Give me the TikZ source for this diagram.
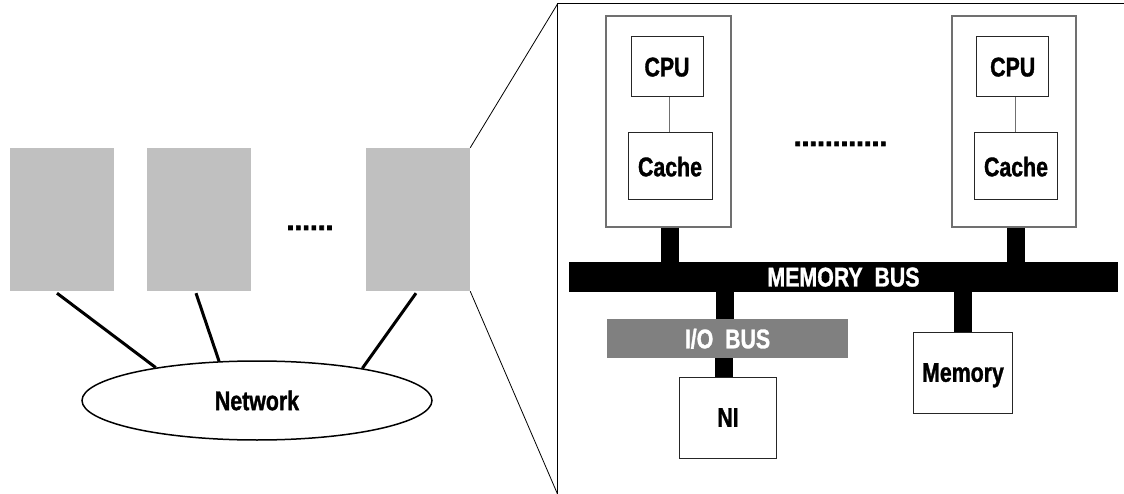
\documentclass[tikz,border=0pt]{standalone}
\usepackage{fontspec}
\setmainfont{Liberation Sans}[FakeStretch=0.79,FakeBold=1.2]
\newfontfamily\dotfont{Liberation Sans}[FakeBold=2.5]
\usetikzlibrary{shapes.geometric}
\definecolor{nodegray}{HTML}{C0C0C0}
\definecolor{busgray}{HTML}{808080}
\definecolor{edgegray}{HTML}{707070}
\tikzset{
  lab/.style={font=\fontsize{27}{30}\selectfont\bfseries},
  dots/.style={font=\fontsize{28}{30}\selectfont\bfseries\dotfont, anchor=base, inner sep=0pt},
  node box/.style={fill=nodegray, draw=none, inner sep=0pt},
  proc/.style={draw=edgegray, line width=1.2pt, inner sep=0pt},
  unit/.style={draw=black!85, line width=1pt, inner sep=0pt, lab, text depth=0pt},
  link/.style={line width=3pt},
  bus/.style={line width=18pt},
  thin link/.style={draw=edgegray, line width=1pt},
  frame/.style={line width=1pt},
}
\begin{document}
\begin{tikzpicture}[x=1pt,y=-1pt]
\useasboundingbox (0,0) rectangle (1124,494);
% left: nodes and network
\node[node box, minimum width=104pt, minimum height=143pt] (b1) at (62,219.5) {};
\node[node box, minimum width=104pt, minimum height=143pt] (b2) at (199,219.5) {};
\node[node box, minimum width=104pt, minimum height=143pt] (b3) at (418,219.5) {};
\node[dots] (ldots) at (310,230) {......};
\node[ellipse, draw, line width=1.5pt, minimum width=350pt, minimum height=79pt, inner sep=0pt, lab] (net) at (257,400.5) {Network};
\draw[link] ([xshift=-5pt,yshift=-2pt]b1.south) -- (net.162);
\draw[link] ([xshift=-3pt,yshift=-2pt]b2.south) -- (net.134);
\draw[link] ([xshift=-2pt,yshift=-2pt]b3.south) -- (net.17.4);
% zoom frame
\coordinate (fTL) at (557.5,4);
\coordinate (fBL) at (557.5,494);
\coordinate (fTR) at (1124,4);
\draw[frame] (fBL) -- (fTL) -- (fTR);
\draw[line width=0.8pt] (b3.north east) -- (fTL);
\draw[line width=0.8pt] (b3.south east) -- (fBL);
% processors
\node[proc, minimum width=125pt, minimum height=211pt] (p1) at (668.5,121.5) {};
\node[proc, minimum width=124pt, minimum height=211pt] (p2) at (1014,121.5) {};
\node[unit, minimum width=72pt, minimum height=60pt] (cpu1) at (667,67) {CPU};
\node[unit, minimum width=84pt, minimum height=67pt] (cache1) at (670,166.5) {Cache};
\node[unit, minimum width=71.5pt, minimum height=60pt] (cpu2) at (1012.7,67) {CPU};
\node[unit, minimum width=83.4pt, minimum height=67pt] (cache2) at (1016,166.5) {Cache};
\draw[thin link] ([xshift=2pt]cpu1.south) -- ([xshift=2pt]cpu1.south |- cache1.north);
\draw[thin link] ([xshift=2.3pt]cpu2.south) -- ([xshift=2.3pt]cpu2.south |- cache2.north);
\node[dots] (rdots) at (840.5,146) {............};
% buses
\node[fill=black, text=white, inner sep=0pt, minimum width=549pt, minimum height=30pt, lab, text depth=0pt] (mbus) at (843.5,277) {MEMORY\ \ BUS};
\node[fill=busgray, text=white, inner sep=0pt, minimum width=241pt, minimum height=39pt, lab, text depth=0pt] (iobus) at (727.5,338.5) {I/O\ \ BUS};
\node[unit, minimum width=96.5pt, minimum height=81pt] (ni) at (728,417.5) {NI};
\node[unit, minimum width=99pt, minimum height=81pt] (mem) at (963,372.5) {Memory};
\draw[bus] (cache1.south |- p1.south) -- (cache1.south |- mbus.north);
\draw[bus] (cache2.south |- p2.south) -- (cache2.south |- mbus.north);
\draw[bus] ([xshift=-2.5pt]iobus.north |- mbus.south) -- ([xshift=-2.5pt]iobus.north);
\draw[bus] ([xshift=-4pt]ni.north) -- ([xshift=-4pt]ni.north |- iobus.south);
\draw[bus] (mem.north) -- (mem.north |- mbus.south);
\end{tikzpicture}
\end{document}
